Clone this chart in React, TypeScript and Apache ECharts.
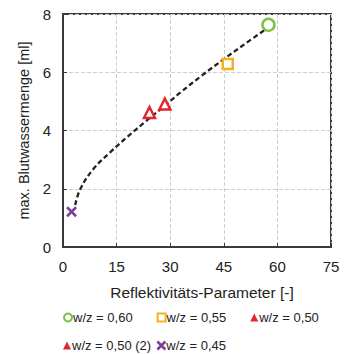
import React, { useEffect, useRef } from "react";
import * as echarts from "echarts";

const seriesNames = ["w/z = 0,60", "w/z = 0,55", "w/z = 0,50", "w/z = 0,50 (2)", "w/z = 0,45"];
const pointX = [57.5, 46.1, 24.2, 28.5, 2.4];
const pointY = [7.63, 6.28, 4.62, 4.91, 1.21];
const colors = ["#7cc242", "#f5b21b", "#e3262c", "#e3262c", "#7a3e98"];

const curveX = [3.4, 4.8, 8.5, 13.2, 18, 23, 28, 33, 39, 45, 51, 57];
const curveY = [1.44, 1.98, 2.68, 3.25, 3.78, 4.3, 4.8, 5.32, 5.9, 6.45, 6.98, 7.5];

const xTicks = [0, 15, 30, 45, 60, 75];
const yTicks = [0, 2, 4, 6, 8];

const crossPath = "path://M0,0 L10,10 M10,0 L0,10";

export default function App() {
  const ref = useRef<HTMLDivElement>(null);
  useEffect(() => {
    const chart = echarts.init(ref.current!, null, { renderer: "svg" });
    const font = "Liberation Sans, Arial, sans-serif";
    const symbols = ["circle", "rect", "triangle", "triangle", crossPath];
    const sizes = [12, 10, 11, 11, 9];
    const scatter = seriesNames.map((name, i) => ({
      type: "scatter",
      name,
      symbol: symbols[i],
      symbolSize: sizes[i],
      data: [[pointX[i], pointY[i]]],
      itemStyle: {
        color: i === 4 ? colors[i] : "#ffffff",
        borderColor: colors[i],
        borderWidth: 2.5,
        opacity: 1,
      },
      z: 5,
    }));
    const legendData = seriesNames.map((name, i) => ({
      name,
      icon: symbols[i],
      itemStyle:
        i < 2
          ? { color: "#ffffff", borderColor: colors[i], borderWidth: 2 }
          : i === 4
          ? { color: colors[i], borderColor: colors[i], borderWidth: 2.5 }
          : { color: colors[i], borderColor: colors[i], borderWidth: 0 },
    }));
    const legendText = { fontFamily: font, fontSize: 13, color: "#222", padding: [0, 0, 0, -4] };
    chart.setOption({
      animation: false,
      grid: {
        left: 63,
        right: 16,
        top: 14,
        bottom: 107,
        show: true,
        borderColor: "#3a3a3a",
        borderWidth: 2,
      },
      xAxis: {
        type: "value",
        min: 0,
        max: 75,
        interval: 15,
        name: "Reflektivitäts-Parameter [-]",
        nameLocation: "middle",
        nameGap: 37,
        nameTextStyle: { fontFamily: font, fontSize: 15.5, color: "#222", padding: [0, 0, 0, 10] },
        axisLine: { show: true, lineStyle: { color: "#3a3a3a", width: 2 } },
        axisTick: { show: true, inside: true, length: 4, lineStyle: { color: "#3a3a3a" } },
        axisLabel: {
          fontFamily: font,
          fontSize: 15,
          color: "#222",
          margin: 12,
          formatter: (v: number) => (xTicks.includes(v) ? String(v) : ""),
        },
        splitLine: { show: true, lineStyle: { color: "#cfcfcf", type: "dashed", width: 1 } },
      },
      yAxis: {
        type: "value",
        min: 0,
        max: 8,
        interval: 2,
        name: "max. Blutwassermenge [ml]",
        nameLocation: "middle",
        nameGap: 30,
        nameTextStyle: { fontFamily: font, fontSize: 14.5, color: "#222" },
        axisLine: { show: true, lineStyle: { color: "#3a3a3a", width: 2 } },
        axisTick: { show: true, inside: true, length: 4, lineStyle: { color: "#3a3a3a" } },
        axisLabel: {
          fontFamily: font,
          fontSize: 15,
          color: "#222",
          margin: 12,
          formatter: (v: number) => (yTicks.includes(v) ? String(v) : ""),
        },
        splitLine: { show: true, lineStyle: { color: "#cfcfcf", type: "dashed", width: 1 } },
      },
      legend: [
        {
          data: legendData.slice(0, 3),
          left: 63,
          top: 311,
          padding: 0,
          itemWidth: 8,
          itemHeight: 8,
          itemGap: 24,
          textStyle: legendText,
        },
        {
          data: legendData.slice(3),
          left: 63,
          top: 339,
          padding: 0,
          itemWidth: 8,
          itemHeight: 8,
          itemGap: 5,
          textStyle: legendText,
        },
      ],
      series: [
        {
          type: "line",
          name: "fit",
          data: curveX.map((x, i) => [x, curveY[i]]),
          smooth: 0.4,
          showSymbol: false,
          lineStyle: { color: "#222", width: 2.3, type: [5, 3] },
          z: 3,
        },
        ...scatter,
      ],
    });
    return () => chart.dispose();
  }, []);
  return (
    <div
      ref={ref}
      style={{ position: "fixed", left: 0, top: 0, width: 347, height: 354, background: "#fff" }}
    />
  );
}
